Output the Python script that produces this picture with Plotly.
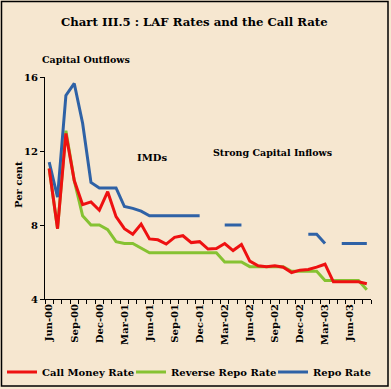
import plotly.graph_objects as go

months = ["Jun-00","Jul-00","Aug-00","Sep-00","Oct-00","Nov-00","Dec-00","Jan-01","Feb-01",
          "Mar-01","Apr-01","May-01","Jun-01","Jul-01","Aug-01","Sep-01","Oct-01","Nov-01",
          "Dec-01","Jan-02","Feb-02","Mar-02","Apr-02","May-02","Jun-02","Jul-02","Aug-02",
          "Sep-02","Oct-02","Nov-02","Dec-02","Jan-03","Feb-03","Mar-03","Apr-03","May-03",
          "Jun-03","Jul-03","Aug-03"]

call_money = [11.05, 7.8, 12.95, 10.4, 9.1, 9.25, 8.8, 9.8, 8.45, 7.8, 7.5, 8.05, 7.25, 7.2,
              6.97, 7.33, 7.42, 7.05, 7.1, 6.7, 6.73, 7.0, 6.62, 6.95, 6.05, 5.8, 5.75, 5.8,
              5.72, 5.43, 5.56, 5.6, 5.72, 5.88, 4.93, 4.93, 4.93, 4.93, 4.82]

reverse_repo = [11.05, 7.8, 13.1, 10.4, 8.5, 8.0, 8.0, 7.75, 7.1, 7.0, 7.0, 6.75, 6.5, 6.5,
                6.5, 6.5, 6.5, 6.5, 6.5, 6.5, 6.5, 6.0, 6.0, 6.0, 5.75, 5.75, 5.75, 5.75,
                5.75, 5.5, 5.5, 5.5, 5.5, 5.0, 5.0, 5.0, 5.0, 5.0, 4.5]

repo = [11.4, 9.5, 15.0, 15.65, 13.5, 10.3, 10.0, 10.0, 10.0, 9.0, 8.9, 8.75, 8.5, 8.5,
        8.5, 8.5, 8.5, 8.5, 8.5, None, None, 8.0, 8.0, 8.0, None, None, None, None,
        None, None, None, 7.5, 7.5, 7.0, None, 7.0, 7.0, 7.0, 7.0]

y_ticks = [4, 8, 12, 16]

FONT = "DejaVu Serif"
BG = "#F6E7D0"
x = list(range(len(months)))

fig = go.Figure()
fig.add_trace(go.Scatter(x=x, y=reverse_repo, name="Reverse Repo Rate", mode="lines",
                         line=dict(color="#86C232", width=3), legend="legend2"))
fig.add_trace(go.Scatter(x=x, y=repo, name="Repo Rate", mode="lines",
                         line=dict(color="#2F62A6", width=3), legend="legend3"))
fig.add_trace(go.Scatter(x=x, y=call_money, name="Call Money Rate", mode="lines",
                         line=dict(color="#EE1111", width=3), legend="legend"))

L, R, T, B = 45, 20, 77, 90
W, H = 391, 389
pw, ph = W - L - R, H - T - B

def px(xp):
    return (xp - L) / pw

def py(yp):
    return (H - B - yp) / ph

def leg(xpix):
    return dict(orientation="h", xref="container", yref="container",
                x=xpix / W, xanchor="left", y=1 - 372 / H, yanchor="middle",
                bgcolor="rgba(0,0,0,0)", borderwidth=0,
                font=dict(family=FONT, size=10, weight="bold", color="black"))

fig.update_layout(
    width=W, height=H,
    margin=dict(l=L, r=R, t=T, b=B, autoexpand=False),
    paper_bgcolor=BG, plot_bgcolor=BG,
    font=dict(family=FONT, color="black", size=10, weight="bold"),
    showlegend=True,
    legend=leg(2), legend2=leg(131), legend3=leg(273),
    xaxis=dict(range=[-0.5, len(months) - 0.5], tickmode="array",
               tickvals=x[::3], ticktext=months[::3], ticks="", tickangle=-90,
               showline=True, linecolor="black", linewidth=1, showgrid=False, zeroline=False,
               automargin=False,
               tickfont=dict(family=FONT, size=10, weight="bold", color="black"),
               minor=dict(tickmode="array", tickvals=[k - 0.5 for k in range(len(months) + 1)],
                          ticks="outside", ticklen=4, tickcolor="black", showgrid=False)),
    yaxis=dict(range=[4, 16], tickmode="array", tickvals=y_ticks, ticks="outside", ticklen=4,
               tickcolor="black", showline=True, linecolor="black", linewidth=1,
               showgrid=False, zeroline=False, automargin=False,
               tickfont=dict(family=FONT, size=10, weight="bold", color="black")),
    shapes=[dict(type="rect", xref="paper", yref="paper", x0=px(1.5), x1=px(388),
                 y0=py(386), y1=py(1.5), line=dict(color="black", width=1.5),
                 fillcolor="rgba(0,0,0,0)", layer="below")],
    annotations=[
        dict(text="Chart III.5 : LAF Rates and the Call Rate", xref="paper", yref="paper",
             x=px(194), y=py(22), showarrow=False, xanchor="center", yanchor="middle",
             font=dict(family=FONT, size=11.7, weight="bold")),
        dict(text="Capital Outflows", xref="paper", yref="paper", x=px(40), y=py(60),
             showarrow=False, xanchor="left", yanchor="middle",
             font=dict(family=FONT, size=9.5, weight="bold")),
        dict(text="IMDs", xref="paper", yref="paper", x=px(152), y=py(157),
             showarrow=False, xanchor="center", yanchor="middle",
             font=dict(family=FONT, size=10, weight="bold")),
        dict(text="Strong Capital Inflows", xref="paper", yref="paper", x=px(272), y=py(152),
             showarrow=False, xanchor="center", yanchor="middle",
             font=dict(family=FONT, size=9.5, weight="bold")),
        dict(text="Per cent", xref="paper", yref="paper", x=px(18), y=py(185),
             showarrow=False, xanchor="center", yanchor="middle", textangle=-90,
             font=dict(family=FONT, size=10, weight="bold")),
    ],
)

fig.write_html("out.html", config={"displayModeBar": False},
               post_script="document.body.style.margin='0';document.body.style.padding='0';")
